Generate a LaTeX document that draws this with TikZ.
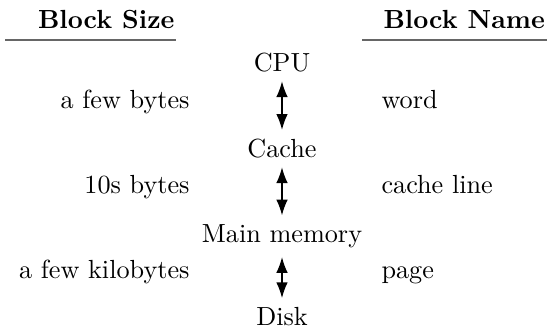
\documentclass[tikz,border=0pt]{standalone}
\usetikzlibrary{arrows.meta}
\begin{document}
\begin{tikzpicture}[x=0.3817pt,y=-0.3817pt,
  head/.style={font=\bfseries,inner sep=0pt},
  lvl/.style={inner sep=3.33pt},
  lbl/.style={inner sep=0pt},
  hrule/.style={draw=black!60,line width=0.8pt},
  link/.style={{Latex[length=6pt,width=4.4pt]}-{Latex[length=6pt,width=4.4pt]},line width=0.5pt}]
\useasboundingbox (0,0) rectangle (547,328);
\node[head,anchor=base east] (hs) at (175,28) {Block Size};
\node[head,anchor=base west] (hn) at (383,28) {Block Name};
\coordinate (r1a) at (5,40);
\coordinate (r1b) at (176,40);
\coordinate (r2a) at (362,40);
\coordinate (r2b) at (547,40);
\draw[hrule] (r1a) -- (r1b);
\draw[hrule] (r2a) -- (r2b);
\node[lvl,anchor=base] (cpu) at (282,71.5) {CPU};
\node[lvl,anchor=base] (cache) at (282,157.5) {Cache};
\node[lvl,anchor=base] (mem) at (282,242.5) {Main memory};
\node[lvl,anchor=base] (disk) at (282,325.5) {Disk};
\draw[link] (cpu) -- (cache);
\draw[link] (cache) -- (mem);
\draw[link] (mem) -- (disk);
\node[lbl,anchor=base east] (s1) at (190,108) {a few bytes};
\node[lbl,anchor=base east] (s2) at (190,193.5) {10s bytes};
\node[lbl,anchor=base east] (s3) at (190,278) {a few kilobytes};
\node[lbl,anchor=base west] (n1) at (381,108) {word};
\node[lbl,anchor=base west] (n2) at (381,193.5) {cache line};
\node[lbl,anchor=base west] (n3) at (381,278) {page};
\end{tikzpicture}
\end{document}
